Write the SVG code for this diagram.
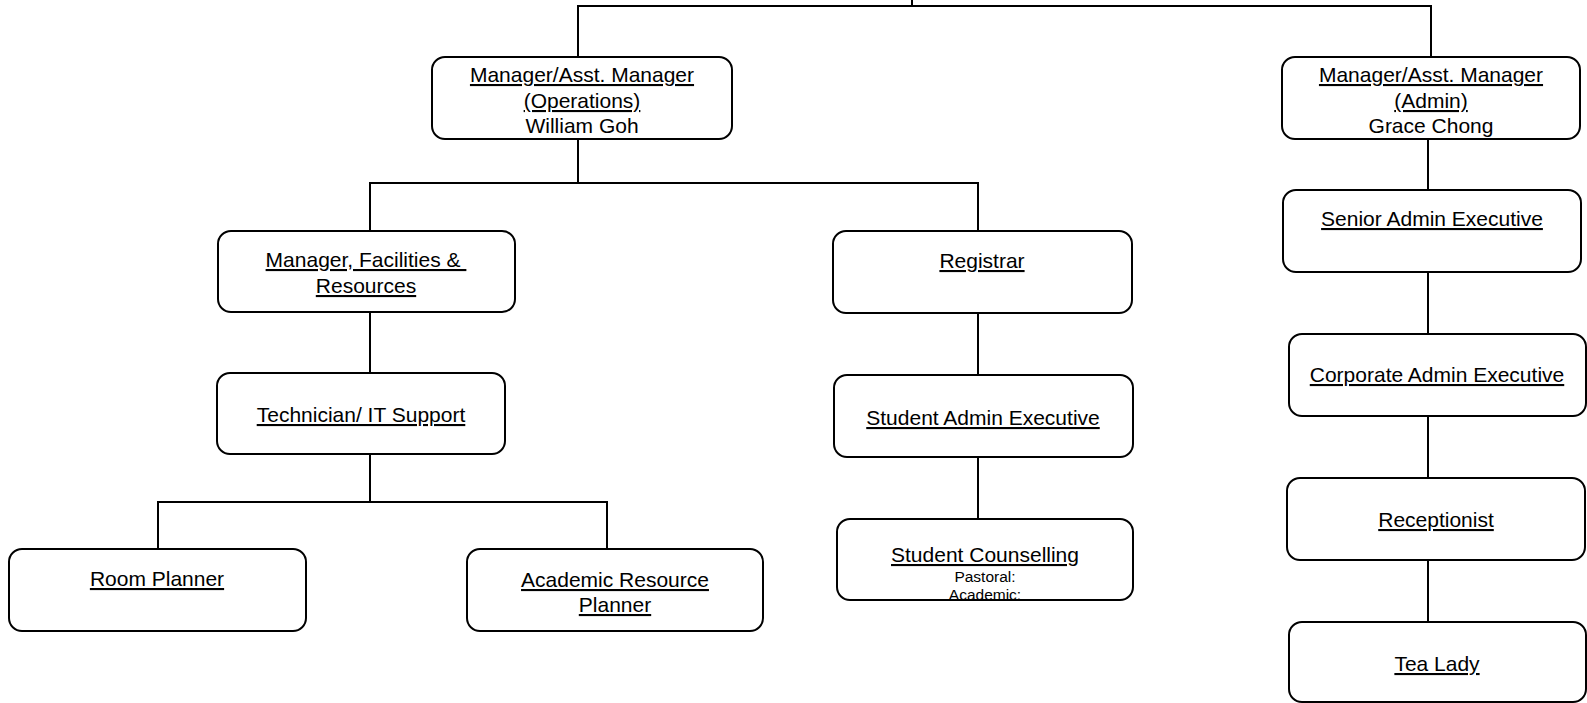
<svg xmlns="http://www.w3.org/2000/svg" width="1587" height="703" viewBox="0 0 1587 703">
<style>
.box{fill:#fff;stroke:#000;stroke-width:2}
.t{font-family:"Liberation Sans",Arial,sans-serif;font-size:21px;fill:#000;text-anchor:middle}
.u{text-decoration:underline}
.s{font-size:15.5px}
#connectors line{stroke:#000;stroke-width:2}
</style>
<defs>
<clipPath id="clipSC"><rect x="838" y="520" width="294" height="79"/></clipPath>
</defs>
<rect width="1587" height="703" fill="#fff"/>
<g id="connectors">
<line x1="912" y1="0" x2="912" y2="6"/>
<line x1="577" y1="6" x2="1432" y2="6"/>
<line x1="578" y1="6" x2="578" y2="57"/>
<line x1="1431" y1="6" x2="1431" y2="57"/>
<line x1="578" y1="139" x2="578" y2="183"/>
<line x1="369" y1="183" x2="979" y2="183"/>
<line x1="370" y1="183" x2="370" y2="231"/>
<line x1="978" y1="183" x2="978" y2="231"/>
<line x1="370" y1="312" x2="370" y2="373"/>
<line x1="370" y1="454" x2="370" y2="502"/>
<line x1="157" y1="502" x2="608" y2="502"/>
<line x1="158" y1="502" x2="158" y2="549"/>
<line x1="607" y1="502" x2="607" y2="549"/>
<line x1="978" y1="313" x2="978" y2="375"/>
<line x1="978" y1="457" x2="978" y2="519"/>
<line x1="1428" y1="139" x2="1428" y2="190"/>
<line x1="1428" y1="272" x2="1428" y2="334"/>
<line x1="1428" y1="416" x2="1428" y2="478"/>
<line x1="1428" y1="560" x2="1428" y2="622"/>
</g>
<g id="node-ops">
<rect class="box" x="432" y="57" width="300" height="82" rx="13"/>
<text class="t" x="582" y="82"><tspan class="u">Manager/Asst. Manager</tspan></text>
<text class="t" x="582" y="108"><tspan class="u">(Operations)</tspan></text>
<text class="t" x="582" y="133">William Goh</text>
</g>
<g id="node-admin">
<rect class="box" x="1282" y="57" width="298" height="82" rx="13"/>
<text class="t" x="1431" y="82"><tspan class="u">Manager/Asst. Manager</tspan></text>
<text class="t" x="1431" y="108"><tspan class="u">(Admin)</tspan></text>
<text class="t" x="1431" y="133">Grace Chong</text>
</g>
<g id="node-facilities">
<rect class="box" x="218" y="231" width="297" height="81" rx="13"/>
<text class="t" x="366" y="267" xml:space="preserve"><tspan class="u">Manager, Facilities &amp; </tspan></text>
<text class="t" x="366" y="293"><tspan class="u">Resources</tspan></text>
</g>
<g id="node-registrar">
<rect class="box" x="833" y="231" width="299" height="82" rx="13"/>
<text class="t" x="982" y="268"><tspan class="u">Registrar</tspan></text>
</g>
<g id="node-technician">
<rect class="box" x="217" y="373" width="288" height="81" rx="13"/>
<text class="t" x="361" y="422"><tspan class="u">Technician/ IT Support</tspan></text>
</g>
<g id="node-room">
<rect class="box" x="9" y="549" width="297" height="82" rx="13"/>
<text class="t" x="157" y="586"><tspan class="u">Room Planner</tspan></text>
</g>
<g id="node-academic">
<rect class="box" x="467" y="549" width="296" height="82" rx="13"/>
<text class="t" x="615" y="587"><tspan class="u">Academic Resource</tspan></text>
<text class="t" x="615" y="612"><tspan class="u">Planner</tspan></text>
</g>
<g id="node-student-admin">
<rect class="box" x="834" y="375" width="299" height="82" rx="13"/>
<text class="t" x="983" y="425"><tspan class="u">Student Admin Executive</tspan></text>
</g>
<g id="node-counselling">
<rect class="box" x="837" y="519" width="296" height="81" rx="13"/>
<text class="t" x="985" y="562"><tspan class="u">Student Counselling</tspan></text>
<g clip-path="url(#clipSC)">
<text class="t s" x="985" y="582">Pastoral:</text>
<text class="t s" x="985" y="600">Academic:</text>
</g>
</g>
<g id="node-senior">
<rect class="box" x="1283" y="190" width="298" height="82" rx="13"/>
<text class="t" x="1432" y="226"><tspan class="u">Senior Admin Executive</tspan></text>
</g>
<g id="node-corporate">
<rect class="box" x="1289" y="334" width="297" height="82" rx="13"/>
<text class="t" x="1437" y="382"><tspan class="u">Corporate Admin Executive</tspan></text>
</g>
<g id="node-reception">
<rect class="box" x="1287" y="478" width="298" height="82" rx="13"/>
<text class="t" x="1436" y="527"><tspan class="u">Receptionist</tspan></text>
</g>
<g id="node-tea">
<rect class="box" x="1289" y="622" width="297" height="80" rx="13"/>
<text class="t" x="1437" y="671"><tspan class="u">Tea Lady</tspan></text>
</g>
</svg>
